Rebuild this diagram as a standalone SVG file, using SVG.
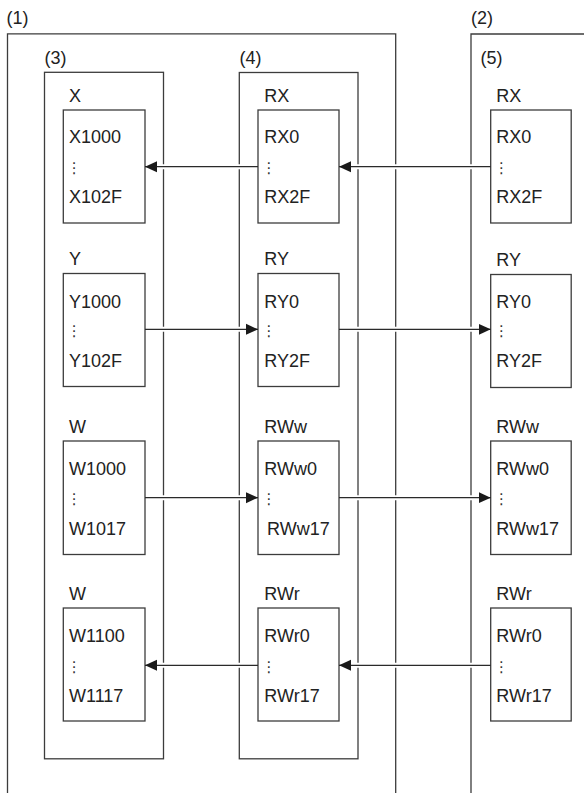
<svg xmlns="http://www.w3.org/2000/svg" width="584" height="793" viewBox="0 0 584 793">
<defs>
<style>
.frame{fill:none;stroke:#3c3c3c;stroke-width:1.3}
.box{fill:#fff;stroke:#3c3c3c;stroke-width:1.3}
.t{font-family:"Liberation Sans",Arial,sans-serif;font-size:18px;fill:#222}
.d{font-family:"DejaVu Sans",sans-serif;font-size:15px;fill:#333;text-anchor:middle}
.halo{stroke:#fff;stroke-width:5;fill:none}
.ln{stroke:#2a2a2a;stroke-width:1.3;fill:none;marker-end:url(#ah)}
</style>
<marker id="ah" markerUnits="userSpaceOnUse" markerWidth="12" markerHeight="12" viewBox="0 0 12 12" refX="12" refY="6" orient="auto">
<path d="M0,0.5 L12,6 L0,11.5 Z" fill="#1a1a1a"/>
</marker>
</defs>
<rect width="584" height="793" fill="#fff"/>

<g id="frame1">
<text class="t" x="6.5" y="23.5">(1)</text>
<path class="frame" d="M7.5,800 V33.8 H395.7 V800"/>
</g>
<g id="frame2">
<text class="t" x="471" y="23.5">(2)</text>
<path class="frame" d="M471,800 V34 H590"/>
<text class="t" x="480.5" y="63.5">(5)</text>
</g>
<g id="frame3">
<text class="t" x="44.5" y="63.5">(3)</text>
<rect class="frame" x="44.5" y="72.3" width="119" height="686.5"/>
</g>
<g id="frame4">
<text class="t" x="239.5" y="63.5">(4)</text>
<rect class="frame" x="239.3" y="72.5" width="118.7" height="686.3"/>
</g>

<g id="nodeX">
<text class="t" x="69" y="101.7">X</text>
<rect class="box" x="63.3" y="110" width="81.7" height="113"/>
<text class="t" x="69" y="143">X1000</text>
<text class="d" x="74.3" y="173">⋮</text>
<text class="t" x="69" y="203">X102F</text>
</g>
<g id="nodeY">
<text class="t" x="69" y="265">Y</text>
<rect class="box" x="63.3" y="273.5" width="81.7" height="113"/>
<text class="t" x="69" y="307.5">Y1000</text>
<text class="d" x="74.3" y="335.8">⋮</text>
<text class="t" x="69" y="366.5">Y102F</text>
</g>
<g id="nodeW1">
<text class="t" x="69" y="433">W</text>
<rect class="box" x="63.3" y="441" width="81.7" height="113.5"/>
<text class="t" x="69" y="475">W1000</text>
<text class="d" x="74.3" y="504.2">⋮</text>
<text class="t" x="69" y="535">W1017</text>
</g>
<g id="nodeW2">
<text class="t" x="69" y="600">W</text>
<rect class="box" x="63.3" y="608" width="81.7" height="113"/>
<text class="t" x="69" y="641.5">W1100</text>
<text class="d" x="74.3" y="671.8">⋮</text>
<text class="t" x="69" y="701.5">W1117</text>
</g>

<g id="nodeRX4">
<text class="t" x="264.3" y="101.7">RX</text>
<rect class="box" x="258" y="110" width="81" height="113"/>
<text class="t" x="264.3" y="143">RX0</text>
<text class="d" x="269" y="173">⋮</text>
<text class="t" x="264.3" y="203">RX2F</text>
</g>
<g id="nodeRY4">
<text class="t" x="264.3" y="265">RY</text>
<rect class="box" x="258" y="273.5" width="81" height="113"/>
<text class="t" x="264.3" y="307.5">RY0</text>
<text class="d" x="269" y="335.8">⋮</text>
<text class="t" x="264.3" y="366.5">RY2F</text>
</g>
<g id="nodeRWw4">
<text class="t" x="264.3" y="433">RWw</text>
<rect class="box" x="258" y="441" width="81" height="113.5"/>
<text class="t" x="264.3" y="475">RWw0</text>
<text class="d" x="269" y="504.2">⋮</text>
<text class="t" x="267" y="535">RWw17</text>
</g>
<g id="nodeRWr4">
<text class="t" x="264.3" y="600">RWr</text>
<rect class="box" x="258" y="608" width="81" height="113"/>
<text class="t" x="264.3" y="641.5">RWr0</text>
<text class="d" x="269" y="671.8">⋮</text>
<text class="t" x="264.3" y="701.5">RWr17</text>
</g>

<g id="nodeRX5">
<text class="t" x="496.3" y="101.7">RX</text>
<rect class="box" x="490.7" y="110" width="80.5" height="113"/>
<text class="t" x="496.3" y="143">RX0</text>
<text class="d" x="501.5" y="173">⋮</text>
<text class="t" x="496.3" y="203">RX2F</text>
</g>
<g id="nodeRY5">
<text class="t" x="496.3" y="265.5">RY</text>
<rect class="box" x="490.7" y="274.5" width="80.5" height="113"/>
<text class="t" x="496.3" y="308">RY0</text>
<text class="d" x="501.5" y="335.8">⋮</text>
<text class="t" x="496.3" y="367">RY2F</text>
</g>
<g id="nodeRWw5">
<text class="t" x="496.3" y="433">RWw</text>
<rect class="box" x="490.7" y="441" width="80.5" height="113.5"/>
<text class="t" x="496.3" y="475">RWw0</text>
<text class="d" x="501.5" y="504.2">⋮</text>
<text class="t" x="496.3" y="535">RWw17</text>
</g>
<g id="nodeRWr5">
<text class="t" x="496.3" y="600">RWr</text>
<rect class="box" x="490.7" y="608" width="80.5" height="113"/>
<text class="t" x="496.3" y="641.5">RWr0</text>
<text class="d" x="501.5" y="671.8">⋮</text>
<text class="t" x="496.3" y="701.5">RWr17</text>
</g>

<g id="connectors">
<path class="halo" d="M152,166.7 H252 M346,166.7 H485 M150,329.3 H250 M345,329.3 H483 M150,497.7 H250 M345,497.7 H483 M152,665.3 H252 M346,665.3 H485"/>
<path class="ln" d="M258,166.7 H145"/>
<path class="ln" d="M490.7,166.7 H339"/>
<path class="ln" d="M145,329.3 H258"/>
<path class="ln" d="M339,329.3 H490.7"/>
<path class="ln" d="M145,497.7 H258"/>
<path class="ln" d="M339,497.7 H490.7"/>
<path class="ln" d="M258,665.3 H145"/>
<path class="ln" d="M490.7,665.3 H339"/>
</g>
</svg>
